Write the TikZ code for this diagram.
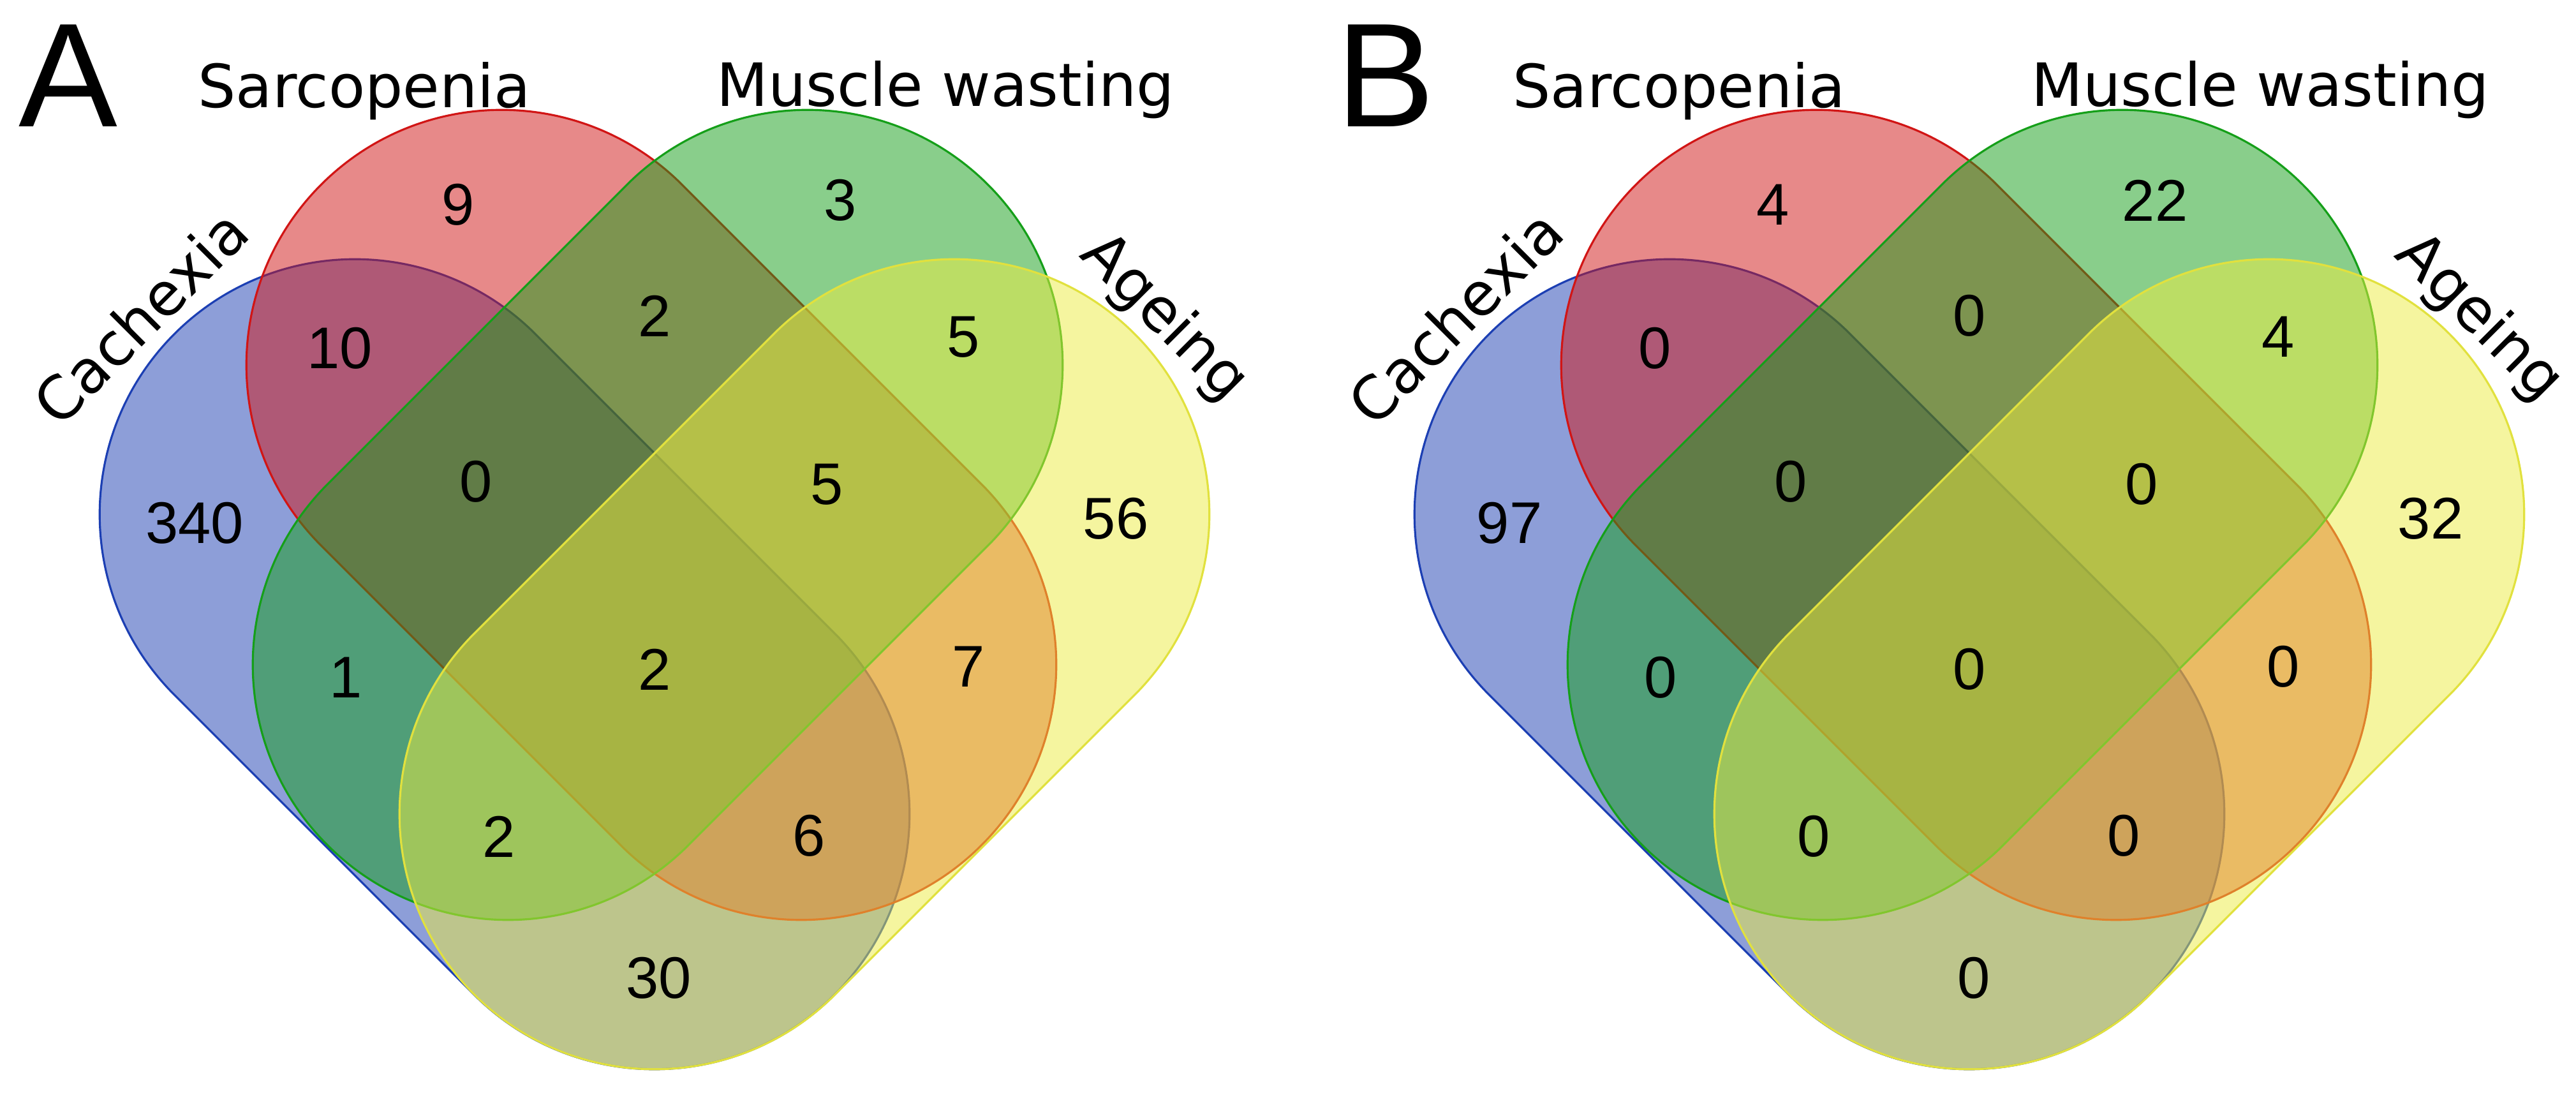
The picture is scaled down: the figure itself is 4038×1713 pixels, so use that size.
\documentclass[tikz,border=0pt]{standalone}
\usepackage{fontspec}
\newfontfamily\labfont{DejaVu Sans}
\newfontfamily\numfont{Liberation Sans}
\definecolor{cBlue}{HTML}{1C3FB3}
\definecolor{cRed}{HTML}{D11515}
\definecolor{cGreen}{HTML}{159F19}
\definecolor{cYellow}{HTML}{EDED41}
\tikzset{
  vshape/.style={line width=0.9pt, fill opacity=0.5, draw opacity=1},
  blueset/.style={vshape, draw=cBlue, fill=cBlue},
  redset/.style={vshape, draw=cRed, fill=cRed},
  greenset/.style={vshape, draw=cGreen, fill=cGreen},
  yellowset/.style={vshape, draw=cYellow!95!black, fill=cYellow},
  numlab/.style={font=\numfont\fontsize{26.2pt}{30pt}\selectfont, inner sep=0pt, anchor=center},
  setlab/.style={font=\labfont\fontsize{26.6pt}{30pt}\selectfont, inner sep=0pt, anchor=base},
  panellab/.style={font=\numfont\fontsize{66pt}{70pt}\selectfont, inner sep=0pt, anchor=base},
}
\newcommand\vennstadium[4]{%
  \path[#1, shift={(#2,#3)}, rotate=#4]
    (-332,400) -- (332,400) arc[start angle=90, end angle=-90, radius=400]
    -- (-332,-400) arc[start angle=270, end angle=90, radius=400] -- cycle;}
\newcommand\vennshapes{%
  \vennstadium{blueset}{791}{1041}{-45}
  \vennstadium{redset}{1021}{807}{-45}
  \vennstadium{greenset}{1031}{807}{45}
  \vennstadium{yellowset}{1261}{1041}{45}}
\begin{document}
\begin{tikzpicture}[x=0.01cm, y=-0.01cm]
  \fill[white] (0,0) rectangle (4038,1713);
  \useasboundingbox (0,0) rectangle (4038,1713);
  % ---------- Panel A ----------
  \begin{scope}
    \vennshapes
    \node[panellab] (aLetter) at (107,199) {A};
    \node[setlab] (aSar) at (571,169) {Sarcopenia};
    \node[setlab] (aMus) at (1482,167) {Muscle wasting};
    \node[setlab, rotate=45] (aCac) at (245,521) {Cachexia};
    \node[setlab, rotate=-45] (aAge) at (1806,517) {Ageing};
    \node[numlab] (aS)    at (718,321)  {9};
    \node[numlab] (aCS)   at (533,546)  {10};
    \node[numlab] (aCSM)  at (746,755)  {0};
    \node[numlab] (aC)    at (305,820)  {340};
    \node[numlab] (aCM)   at (542,1062) {1};
    \node[numlab] (aCMA)  at (782,1311) {2};
    \node[numlab] (aM)    at (1317,314) {3};
    \node[numlab] (aSM)   at (1026,495) {2};
    \node[numlab] (aMA)   at (1510,528) {5};
    \node[numlab] (aSMA)  at (1296,759) {5};
    \node[numlab] (aA)    at (1749,813) {56};
    \node[numlab] (aAll)  at (1026,1049){2};
    \node[numlab] (aSA)   at (1518,1045){7};
    \node[numlab] (aCSA)  at (1268,1310){6};
    \node[numlab] (aCA)   at (1033,1533){30};
  \end{scope}
  % ---------- Panel B ----------
  \begin{scope}[shift={(2061,0)}]
    \vennshapes
    \node[panellab] (bLetter) at (111,199) {B};
    \node[setlab] (bSar) at (571,169) {Sarcopenia};
    \node[setlab] (bMus) at (1482,167) {Muscle wasting};
    \node[setlab, rotate=45] (bCac) at (245,521) {Cachexia};
    \node[setlab, rotate=-45] (bAge) at (1806,517) {Ageing};
    \node[numlab] (bS)    at (718,321)  {4};
    \node[numlab] (bCS)   at (533,546)  {0};
    \node[numlab] (bCSM)  at (746,755)  {0};
    \node[numlab] (bC)    at (305,820)  {97};
    \node[numlab] (bCM)   at (542,1062) {0};
    \node[numlab] (bCMA)  at (782,1311) {0};
    \node[numlab] (bM)    at (1317,314) {22};
    \node[numlab] (bSM)   at (1026,495) {0};
    \node[numlab] (bMA)   at (1510,528) {4};
    \node[numlab] (bSMA)  at (1296,759) {0};
    \node[numlab] (bA)    at (1749,813) {32};
    \node[numlab] (bAll)  at (1026,1049){0};
    \node[numlab] (bSA)   at (1518,1045){0};
    \node[numlab] (bCSA)  at (1268,1310){0};
    \node[numlab] (bCA)   at (1033,1533){0};
  \end{scope}
\end{tikzpicture}
\end{document}
